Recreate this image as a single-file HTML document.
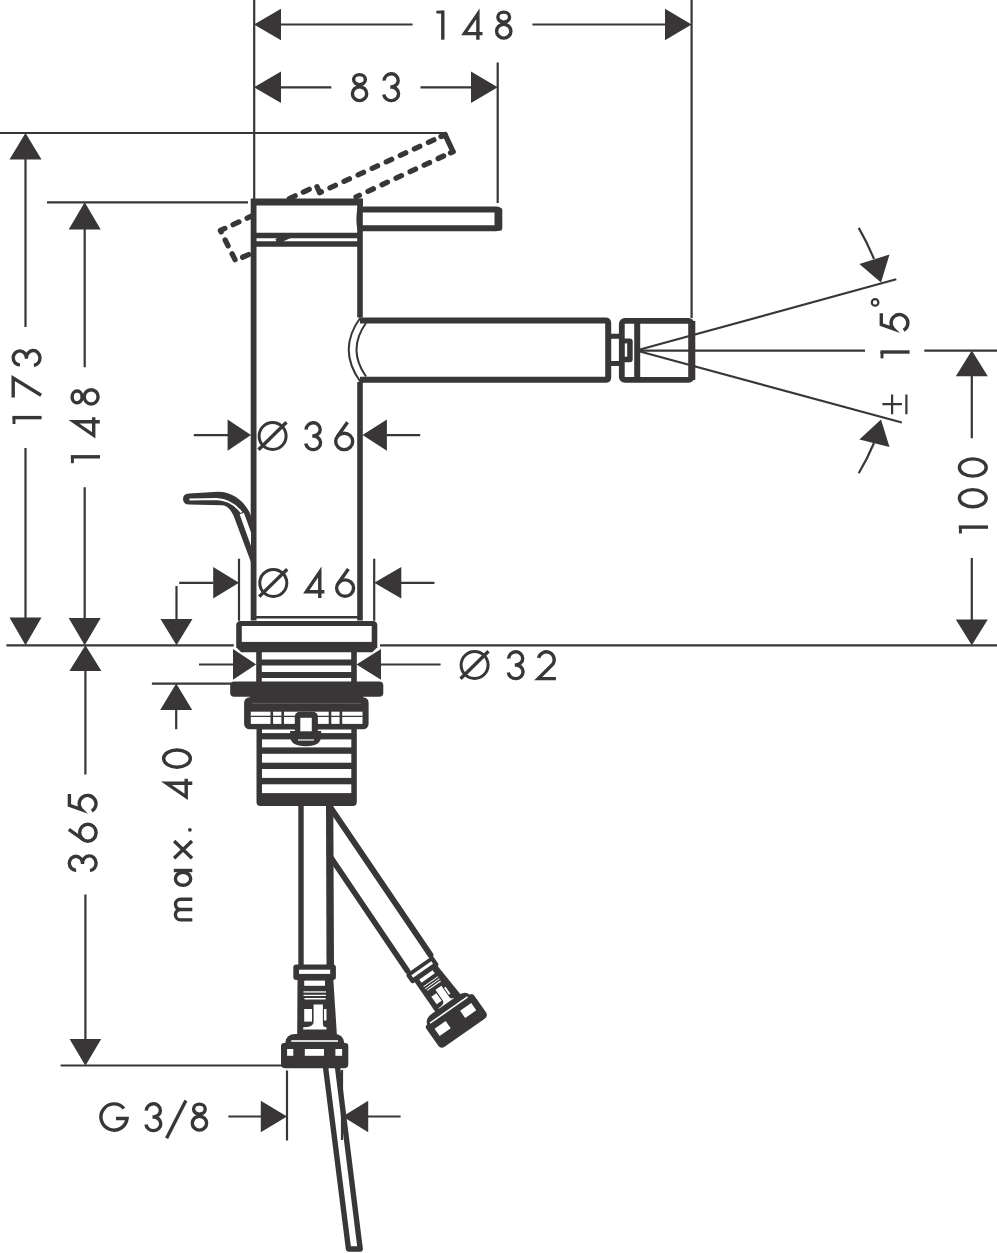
<!DOCTYPE html>
<html><head><meta charset="utf-8"><title>drawing</title>
<style>
html,body{margin:0;padding:0;background:#fff;width:997px;height:1253px;overflow:hidden}
svg{display:block}
text{font-family:"Liberation Sans",sans-serif;fill:#383637}
</style></head><body>
<svg width="997" height="1253" viewBox="0 0 997 1253">
<rect width="997" height="1253" fill="#fff"/>
<!-- DIMENSIONS -->
<g id="dims" stroke="#383637" stroke-width="2.2" fill="none">
  <path d="M254.2 0V199 M691.6 0V318 M497.7 62.6V203 M0 133H445 M47 202.3H248"/>
  <path d="M280 24.5H412.6 M532.4 24.5H665"/>
  <path d="M280 87.3H331.3 M420.5 87.3H471.6"/>
  <path d="M25.5 159V327.1 M25.5 447.9V618"/>
  <path d="M84.7 229V367.3 M84.7 487.2V618"/>
  <path d="M6.4 645.3H233.8 M380 645.3H997"/>
  <path d="M85.4 671V774.5 M85.4 894.4V1039 M60.6 1065.5H282.9"/>
  <path d="M971.8 376V438.3 M971.8 558V620"/>
  <path d="M640 350.6H865 M924.3 350.6H997"/>
  <path d="M640 349.5L896.3 279.3 M640 351.5L901.8 422.5"/>
  <path d="M193.8 435.1H228 M386.5 435.1H420.2"/>
  <path d="M239 558.8V620.7 M374.2 558.8V620.7 M179.2 582.8H213.5 M401 582.8H434.4 M176.5 585.9V619.5"/>
  <path d="M199 664.5H233.5 M381 664.5H440.6"/>
  <path d="M151.9 683.6H231.4 M176.2 709.5V729.3"/>
  <path d="M287 1070.5V1140.4 M342 1070V1140 M228.4 1116.5H261 M368 1116.5H400.6"/>
  <path d="M874 259A250 250 0 0 0 858.7 227.9 M874 443A250 250 0 0 1 858.7 473.3"/>
</g>
<g id="arrows" fill="#383637">
  <!-- horizontal arrows: tip, base -->
  <path d="M254 24.5L281 8.7V40.3Z M691.6 24.5L665 8.7V40.3Z"/>
  <path d="M254 87.3L281 71.5V103.1Z M497.7 87.3L471 71.5V103.1Z"/>
  <path d="M25.5 133L9.5 159.6H41.5Z M25.5 645.3L9.5 617.5H41.5Z"/>
  <path d="M84.7 202.3L68.7 229.6H100.7Z M84.7 645.3L68.7 618H100.7Z"/>
  <path d="M85.4 645.3L69.4 671H101.4Z M85.4 1065.7L69.6 1039H101.2Z"/>
  <path d="M971.8 350.6L955.8 376.3H987.8Z M971.8 645.3L955.8 619.6H987.8Z"/>
  <path d="M251 435.1L227.6 419.5V450.7Z M362.5 435.1L386.9 419.5V450.7Z"/>
  <path d="M239 582.8L213.2 567V598.6Z M374.2 582.8L401.3 567V598.6Z"/>
  <path d="M176.5 645.3L160.5 619H192.5Z"/>
  <path d="M256.1 664.4L233 649V679.8Z M356.5 664.4L381 649V679.8Z"/>
  <path d="M176.2 683.6L160.2 709.9H192.2Z"/>
  <path d="M287 1116.5L260.8 1100.7V1132.3Z M342.6 1116.5L368.2 1100.7V1132.3Z"/>
  <path d="M881 282.4L859.4 263.9L889.5 254.6Z M881 419.4L859.4 439.4L889.5 447.1Z"/>
</g>
<defs>
<g id="g0"><ellipse cx="10.2" cy="15" rx="8.6" ry="13.4"/></g>
<g id="g1"><path d="M6.8 0.8V30"/><path d="M0.4 2.4H6.8" stroke-width="2.9"/></g>
<g id="g2"><path d="M2.2 7.7A7.9 7.9 0 1 1 16.4 14L1.9 28.4H19.5"/></g>
<g id="g3"><path d="M2.1 8.4A7 6.6 0 1 1 9 14.8H8.2M9 14.8A7.4 6.8 0 1 1 1.7 22.3"/></g>
<g id="g4"><path d="M16.9 30.3V4.5L3.4 24.2H21.5"/></g>
<g id="g5"><path d="M19.4 1.7H8.1L3.7 13.9A8.4 8.4 0 1 1 2.3 24"/></g>
<g id="g6"><ellipse cx="10.1" cy="20.2" rx="8.5" ry="8.2"/><path d="M13.4 1.1L3.1 15.6"/></g>
<g id="g7"><path d="M0.5 1.6H19.8L2.6 29.5"/></g>
<g id="g8"><ellipse cx="8.7" cy="6.6" rx="5.85" ry="5"/><ellipse cx="8.75" cy="20.65" rx="7.15" ry="6.95"/></g>
<g id="gO"><circle cx="15" cy="15" r="13.5" stroke-width="3"/><path d="M0.9 28.7L28.9 1.3"/></g>
<g id="gG"><path d="M24.8 6.3A13.1 13.1 0 1 0 27.85 16.3H16.8"/></g>
<g id="gS"><path d="M0 37.9L19.3 0"/></g>
<g id="ga"><ellipse cx="8.45" cy="9.25" rx="6.55" ry="7.65"/><path d="M16.7 0V18.5"/></g>
<g id="gm"><path d="M1.6 18.5V6.8A5.2 5.2 0 0 1 12 6.8V18.5M12 6.8A5.15 5.15 0 0 1 22.3 6.8V18.5"/></g>
<g id="gx"><path d="M1 0.3L18.2 18.2M1 18.2L18.2 0.3"/></g>
</defs>
<g id="texts" stroke="#383637" stroke-width="3.4" fill="none" stroke-linejoin="miter" stroke-miterlimit="6">
  <use href="#g1" transform="translate(436,9.7)"/>
  <use href="#g4" transform="translate(461,9.4)"/>
  <use href="#g8" transform="translate(495,10.5)"/>
  <use href="#g8" transform="translate(350.8,73)"/>
  <use href="#g3" transform="translate(382.1,72.2)"/>
  <use href="#gO" transform="translate(257.6,421)"/>
  <use href="#g3" transform="translate(304.1,421.2)"/>
  <use href="#g6" transform="translate(334.1,421.2)"/>
  <use href="#gO" transform="translate(258.3,567.9)"/>
  <use href="#g4" transform="translate(302.9,567.6)"/>
  <use href="#g6" transform="translate(335,567.9)"/>
  <use href="#gO" transform="translate(459.6,650)"/>
  <use href="#g3" transform="translate(506.6,650.2)"/>
  <use href="#g2" transform="translate(536.4,650.2)"/>
  <use href="#gG" transform="translate(99.2,1102.2)"/>
  <use href="#g3" transform="translate(144.3,1102.2)"/>
  <use href="#gS" transform="translate(166.6,1100.4)"/>
  <use href="#g8" transform="translate(190.7,1102.5)"/>
  <use href="#g1" transform="translate(11.6,424.4) rotate(-90)"/>
  <use href="#g7" transform="translate(11.6,397.9) rotate(-90)"/>
  <use href="#g3" transform="translate(11.6,367) rotate(-90)"/>
  <use href="#g1" transform="translate(70,463.6) rotate(-90)"/>
  <use href="#g4" transform="translate(69.5,438.7) rotate(-90)"/>
  <use href="#g8" transform="translate(70.5,405.6) rotate(-90)"/>
  <use href="#g3" transform="translate(67.7,872.3) rotate(-90)"/>
  <use href="#g6" transform="translate(67.7,842.8) rotate(-90)"/>
  <use href="#g5" transform="translate(67.7,813.4) rotate(-90)"/>
  <use href="#gm" transform="translate(173.8,921.5) rotate(-90)"/>
  <use href="#ga" transform="translate(173.8,887.2) rotate(-90)"/>
  <use href="#gx" transform="translate(173.8,859.3) rotate(-90)"/>
  <use href="#g4" transform="translate(162,800.2) rotate(-90)"/>
  <use href="#g0" transform="translate(162,768.8) rotate(-90)"/>
  <use href="#g1" transform="translate(958,533.9) rotate(-90)"/>
  <use href="#g0" transform="translate(957.8,508.4) rotate(-90)"/>
  <use href="#g0" transform="translate(957.8,477.7) rotate(-90)"/>
  <use href="#g1" transform="translate(879.6,358.8) rotate(-90)"/>
  <use href="#g5" transform="translate(879.6,332.6) rotate(-90)"/>
  <circle cx="189.9" cy="829.8" r="1.9" fill="#383637" stroke="none"/>
</g>
<g stroke="#383637" stroke-width="2.2" fill="none">
  <circle cx="875.1" cy="302.4" r="3.3"/>
  <path d="M882.4 404.1H901.9 M892.1 394.6V414.2 M906.4 394.6V414.2"/>
</g>
<g id="dashed" stroke="#383637" stroke-width="5.3" fill="none" stroke-linecap="round" stroke-linejoin="round">
  <path d="M319.7 192.6L445.1 134.6" stroke-dasharray="6 9.5" stroke-dashoffset="4.2"/>
  <path d="M441 136.5L445.1 134.6L453 151.6L450.5 152.8"/>
  <path d="M453 151.6L356 196.9" stroke-dasharray="6 9.5" stroke-dashoffset="5.15"/>
  <path d="M319.7 192.6L316.6 185.9L220.4 230.5L235.5 260.6L251 253.4" stroke-dasharray="6.5 9" stroke-dashoffset="0"/>
</g>
<rect x="251" y="199" width="112" height="45" fill="#fff"/>
<path d="M276.5 241.5L290 235.3" stroke="#383637" stroke-width="5.3"/>
<g id="body" stroke="#383637" fill="none" stroke-linecap="butt">
  <!-- walls -->
  <path d="M253.6 199V620.5" stroke-width="5.8"/>
  <path d="M360 199V317.5 M360 382V620.5" stroke-width="5.6"/>
  <!-- cap -->
  <path d="M251 202.1H363" stroke-width="7"/>
  <path d="M254 235.5H360" stroke-width="5.5"/>
  <path d="M254 244H360" stroke-width="5.6"/>
  <path d="M254 617.2H360" stroke-width="2.4"/>
  <!-- lever -->
  <path d="M360 209.4H496Q498.5 209.4 498.5 212V225.6Q498.5 228.2 496 228.2H360" stroke-width="6"/>
  <path d="M494.5 207.5H500Q502.3 207.5 502.3 210V227.5Q502.3 230.8 500 230.8H494.5Z" fill="#383637" stroke="none"/>
  <ellipse cx="358.6" cy="219" rx="2.2" ry="12" fill="#383637" stroke="none"/>
  <!-- spout -->
  <path d="M360 320.4H605.5Q608.2 320.4 608.2 323V377.2Q608.2 379.8 605.5 379.8H360" stroke-width="6"/>
  <path d="M360.5 317.5Q337 349.5 360.5 382 M366 323Q347 349.5 366 376.5" stroke-width="2"/>
  <path d="M608 336.3H621 M608 363.4H621" stroke-width="5"/>
  <!-- aerator -->
  <rect x="621.8" y="320.9" width="69.8" height="59" rx="3" stroke-width="5.8"/>
  <path d="M691.8 321V380" stroke-width="7"/>
  <path d="M637.2 321V380" stroke-width="6"/>
  <rect x="622" y="338.4" width="10.7" height="23.9" rx="3" fill="#383637" stroke="none"/><rect x="624.8" y="343.4" width="2.4" height="13.3" fill="#fff" stroke="none"/>
</g>
<g id="base">
  <!-- popup rod -->
  <path d="M183 499Q183 493.6 189 493.4L218 491.7C233 491.7 246 502 251 516L251 566.6L252.6 566.6L233.7 516C231 510 227 505.3 221.9 505.3L189 504.6Q183 504.4 183 499Z" fill="#383637"/>
  <path d="M189.4 499.4L216.5 499C226 499.5 235 504 241.5 512.5" stroke="#fff" stroke-width="2" fill="none"/>
  <path d="M239.6 514.2L243.9 512.8L251 532.5V546Z" fill="#fff"/>
  <!-- ring -->
  <path d="M240.7 621.1H372.8Q377.3 621.1 377.3 625.6V647.3L372.3 652.3H241.2L236.2 647.3V625.6Q236.2 621.1 240.7 621.1Z" fill="#383637"/>
  <rect x="241.8" y="626" width="129.9" height="15.9" fill="#fff"/>
  <!-- shank -->
  <g stroke="#383637" fill="none">
    <path d="M259 652V682 M354 652V682" stroke-width="5.6"/>
    <path d="M259 662.5H354 M259 675H354" stroke-width="5.8"/>
  </g>
  <!-- washer -->
  <rect x="230.2" y="681.4" width="153.1" height="15.4" rx="4" fill="#383637"/>
  <!-- nut -->
  <rect x="244.1" y="697.2" width="124.5" height="32.1" rx="5.5" fill="#383637"/>
  <rect x="250" y="696" width="113" height="4" fill="#383637"/>
  <path d="M252 703.3H361" stroke="#6a6869" stroke-width="0.8"/>
  <rect x="250.8" y="711.7" width="111.7" height="12.2" fill="#fff"/>
  <path d="M250.8 716.4H362.5" stroke="#383637" stroke-width="1.2"/>
  <path d="M271.8 711V724.5 M282.7 711V724.5 M330 711V724.5 M340.9 711V724.5" stroke="#383637" stroke-width="2.6"/>
  <!-- threaded body -->
  <rect x="256.5" y="726" width="100.3" height="80" rx="4" fill="#383637"/>
  <g fill="#fff">
    <rect x="262" y="729.5" width="89.3" height="3.6"/>
    <rect x="262" y="739.4" width="89.3" height="8"/>
    <rect x="262" y="753.8" width="89.3" height="8.9"/>
    <rect x="262" y="769" width="89.3" height="8.9"/>
    <rect x="262" y="784.3" width="89.3" height="8.8"/>
  </g>
  <!-- slot + U -->
  <path d="M290.1 731V736Q290.1 746.2 306 746.2Q321.2 746.2 321.2 736V731Z" fill="#383637"/>
  <path d="M298 740H314" stroke="#fff" stroke-width="1.2"/>
  <rect x="294.8" y="711.7" width="23.1" height="23" rx="5" fill="#383637"/>
  <rect x="300.3" y="717.8" width="11.5" height="13.5" fill="#fff"/>
</g>
<g id="pipes">
  <path d="M301 805V966" stroke="#383637" stroke-width="5.4" fill="none"/>
  <path d="M326 805L333.3 805L334 966L326.5 966Z" fill="#383637"/>
  <path d="M331.5 809L430.5 955 M330.5 857L407.5 971" stroke="#383637" stroke-width="5.8" fill="none" stroke-linecap="round"/>
  <path d="M325.4 1066L348.5 1249H360.2L337.4 1066" stroke="#383637" stroke-width="5.4" fill="none" stroke-linejoin="round"/>
  <g id="fit">
    <rect x="293.3" y="964.5" width="42.6" height="15.6" rx="3" fill="#383637"/>
    <rect x="299" y="969.7" width="31.2" height="4.2" fill="#fff"/>
    <path d="M297.5 979H333.3L336.9 1035H297.2Z" fill="#383637"/>
    <g fill="#fff">
      <rect x="304.2" y="980.6" width="20.8" height="5.2"/>
      <rect x="303.5" y="991.3" width="22.5" height="1.3"/>
      <rect x="303.5" y="994.8" width="22.5" height="1.2"/>
      <rect x="304.5" y="998" width="21" height="1.5"/>
      <path d="M313.6 1004.5H322.9V1024Q323 1027.3 326.5 1027.3V1029.5H303.2V1027.3Q313.6 1027.3 313.6 1022Z"/>
      <rect x="304.2" y="1009" width="7.8" height="12.6"/>
      <rect x="324" y="1009" width="2.5" height="11.5"/>
    </g>
  </g>
  <g id="fitnut">
    <path d="M281 1046Q281 1043 284 1043H285.2Q286 1034 295.5 1034H334Q343.5 1034 344.3 1043H345.3Q348.3 1043 348.3 1046V1064Q348.3 1068.3 344 1068.3H285.3Q281 1068.3 281 1064Z" fill="#383637"/>
    <rect x="291.3" y="1040.2" width="46.7" height="1.6" fill="#fff"/>
    <rect x="287.1" y="1049" width="6.2" height="6.8" fill="#fff"/>
    <rect x="304.8" y="1049" width="19.2" height="6.8" fill="#fff"/>
    <rect x="335.4" y="1049" width="6.7" height="6.8" fill="#fff"/>
  </g>
  <use href="#fit" transform="translate(455.9,1017.65) rotate(-35) scale(0.78,0.74) translate(-314.6,-1051.2)"/>
  <g transform="translate(454.8,1018.6) rotate(-35) scale(1.04)">
    <path d="M-28 -7.5Q-28 -10.5 -25 -10.5Q-23.5 -16.5 -15 -16.5H15Q23.5 -16.5 25 -10.5Q28 -10.5 28 -7.5V12Q28 16.5 23.5 16.5H-23.5Q-28 16.5 -28 12Z" fill="#383637"/>
    <rect x="-22" y="-10.8" width="44" height="1.5" fill="#fff"/>
    <rect x="-21.5" y="-3.2" width="13" height="8.5" fill="#fff"/>
    <rect x="8.5" y="-3.2" width="13" height="8.5" fill="#fff"/>
  </g>
</g>
</svg>
</body></html>
